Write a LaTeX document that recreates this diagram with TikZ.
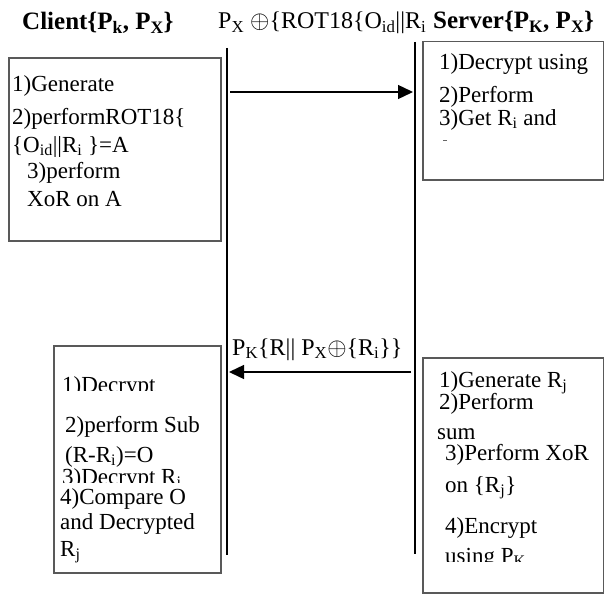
\documentclass[tikz,border=0pt]{standalone}
\usepackage{fontspec}
\setmainfont{Liberation Serif}
\usetikzlibrary{arrows.meta}

\begin{document}
\begin{tikzpicture}[x=1pt,y=-1pt,
  stepbox/.style={draw=black!65, line width=1.5pt, anchor=north west, inner sep=0pt},
  life/.style={line width=1.3pt},
  msg/.style={line width=1.4pt, -{Triangle[length=15pt,width=14pt]}},
  txt/.style={anchor=base west, inner sep=0pt, font=\fontsize{23}{27}\selectfont},
  cut/.style={txt, text depth=0pt},
  lbl/.style={anchor=base west, inner sep=0pt, font=\fontsize{24}{29}\selectfont},
  head/.style={anchor=base west, inner sep=0pt, font=\fontsize{25}{30}\selectfont\bfseries}]
\useasboundingbox (0,0) rectangle (604,594);
% headings
\node[head] (client) at (22,30) {Client\{P\textsubscript{k}, P\textsubscript{X}\}};
\node[head] (server) at (433,29) {Server\{P\textsubscript{K}, P\textsubscript{X}\}};
% boxes
\node[stepbox, minimum width=212pt, minimum height=183pt] (cbox) at (8,57) {};
\node[stepbox, minimum width=181pt, minimum height=138pt] (sbox) at (422,41) {};
\node[stepbox, minimum width=167pt, minimum height=227pt] (vbox) at (53,345) {};
\node[stepbox, minimum width=181pt, minimum height=235pt] (gbox) at (422,357) {};
% lifelines
\coordinate (ctop) at (227,48);
\coordinate (cbot) at (227,555);
\coordinate (stop) at (415,42);
\coordinate (sbot) at (415,554);
\draw[life] (ctop) -- (cbot);
\draw[life] (stop) -- (sbot);
% messages
\coordinate (m1a) at (230,92);
\coordinate (m1b) at (413,92);
\coordinate (m2a) at (411,372);
\coordinate (m2b) at (229,372);
\draw[msg] (m1a) -- (m1b);
\draw[msg] (m2a) -- (m2b);
\node[lbl] (req) at (218,29) {P\textsubscript{X} $\oplus$\{ROT18\{O\textsubscript{id}||R\textsubscript{i}};
\node[lbl] (resp) at (232,355) {P\textsubscript{K}\{R|| P\textsubscript{X}$\oplus$\{R\textsubscript{i}\}\}};
% client steps
\foreach \x/\y/\t in {12/91/{1)Generate}, 12/124/{2)performROT18\{},
  12/152/{\{O\textsubscript{id}||R\textsubscript{i} \}=A}, 27/178/{3)perform}, 27/206/{XoR on A}}
  \node[txt] (c\y) at (\x,\y) {\t};
% server steps
\foreach \x/\y/\t in {439/70/{1)Decrypt using}, 439/102/{2)Perform}, 439/125/{3)Get R\textsubscript{i} and}}
  \node[txt] (s\y) at (\x,\y) {\t};
\draw[black!60, line width=0.8pt] (443,140) -- (447,140);
% verify steps
\begin{scope}
\clip (55,350) rectangle (218,390);
\node[cut] (v1) at (62,392) {1)Decrypt};
\end{scope}
\begin{scope}
\clip (55,467) rectangle (218,482);
\node[cut, text height=14pt] (v3) at (62,484) {3)Decrypt R\textsubscript{i}};
\end{scope}
\foreach \x/\y/\t in {65/432/{2)perform Sub}, 65/462/{(R-R\textsubscript{i})=O},
  60/504/{4)Compare O}, 60/529/{and Decrypted}, 60/556/{R\textsubscript{j}}}
  \node[txt] (v\y) at (\x,\y) {\t};
% generate steps
\foreach \x/\y/\t in {439/387/{1)Generate R\textsubscript{j}}, 439/409/{2)Perform}, 437/439/{sum},
  445/460/{3)Perform XoR}, 445/492/{on \{R\textsubscript{j}\}}, 445/533/{4)Encrypt}}
  \node[txt] (g\y) at (\x,\y) {\t};
\begin{scope}
\clip (425,540) rectangle (600,561);
\node[cut] (g5) at (445,563) {using P\textsubscript{K}};
\end{scope}
\end{tikzpicture}
\end{document}
